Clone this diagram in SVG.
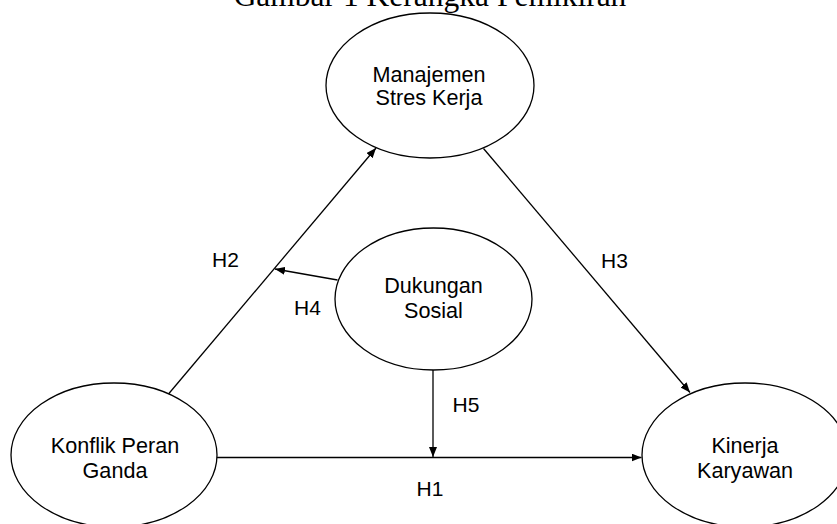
<svg xmlns="http://www.w3.org/2000/svg" width="837" height="524" viewBox="0 0 837 524">
<style>
.node{fill:#fff;stroke:#000;stroke-width:1.3}
.t{font-family:"Liberation Sans",Arial,sans-serif;font-size:21.6px;fill:#000;text-anchor:middle}
.lab{font-family:"Liberation Sans",Arial,sans-serif;font-size:21px;fill:#000}
.c{fill:none;stroke:#000;stroke-width:1.3}
</style>
<defs>
<marker id="ah" viewBox="0 0 10 8" refX="10" refY="4" markerWidth="10" markerHeight="8" markerUnits="userSpaceOnUse" orient="auto">
<path d="M0,0 L10,4 L0,8 Z" fill="#000"/>
</marker>
</defs>
<rect width="837" height="524" fill="#fff"/>
<text x="430" y="5.5" font-family="'Liberation Serif','Times New Roman',serif" font-size="31.5" text-anchor="middle" fill="#000">Gambar 1 Kerangka Pemikiran</text>
<g id="connectors">
<line class="c" x1="217" y1="457.5" x2="641.5" y2="457.5" marker-end="url(#ah)"/>
<line class="c" x1="433" y1="370" x2="433" y2="457" marker-end="url(#ah)"/>
<line class="c" x1="168.5" y1="394" x2="376" y2="148" marker-end="url(#ah)"/>
<line class="c" x1="337.5" y1="280" x2="275" y2="269" marker-end="url(#ah)"/>
<line class="c" x1="483.5" y1="148.5" x2="690" y2="392.5" marker-end="url(#ah)"/>
</g>
<g id="manajemen">
<ellipse class="node" cx="430" cy="85.5" rx="104" ry="72.5"/>
<text class="t" x="429" y="81.7">Manajemen</text>
<text class="t" x="429" y="105">Stres Kerja</text>
</g>
<g id="dukungan">
<ellipse class="node" cx="433.5" cy="299" rx="98.5" ry="71"/>
<text class="t" x="433.5" y="292.7">Dukungan</text>
<text class="t" x="433.5" y="318.3">Sosial</text>
</g>
<g id="konflik">
<ellipse class="node" cx="114" cy="455" rx="103" ry="72"/>
<text class="t" x="115" y="452.7">Konflik Peran</text>
<text class="t" x="115" y="477.5">Ganda</text>
</g>
<g id="kinerja">
<ellipse class="node" cx="745" cy="455" rx="103" ry="72"/>
<text class="t" x="745" y="452.7">Kinerja</text>
<text class="t" x="745" y="477.5">Karyawan</text>
</g>
<g id="labels">
<text class="lab" x="212" y="267">H2</text>
<text class="lab" x="294" y="315">H4</text>
<text class="lab" x="601" y="267.5">H3</text>
<text class="lab" x="452.5" y="411.5">H5</text>
<text class="lab" x="416.5" y="496">H1</text>
</g>
</svg>
